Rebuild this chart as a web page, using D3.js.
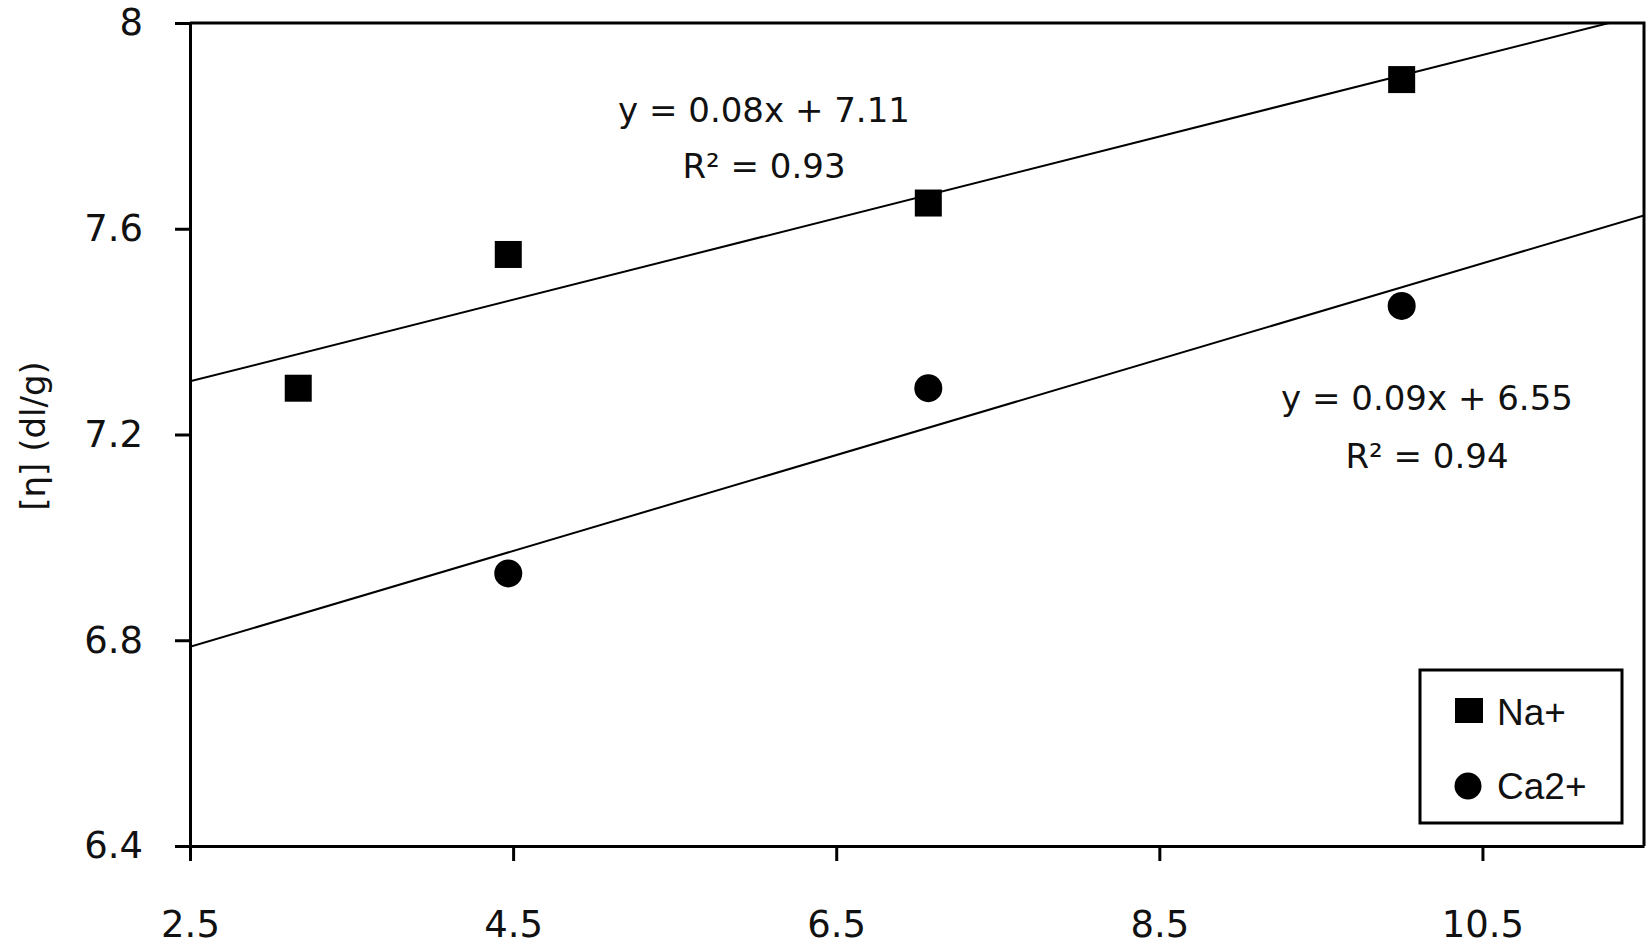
<!DOCTYPE html>
<html>
<head>
<meta charset="utf-8">
<script src="https://cdn.jsdelivr.net/npm/d3@7"></script>
<style>
  body { margin: 0; background: #fff; }
  svg { display: block; }
</style>
</head>
<body>
<svg id="chart" width="1652" height="945"></svg>
<script>
// ---- data ----
const xTicks = [2.5, 4.5, 6.5, 8.5, 10.5];
const yTicks = [6.4, 6.8, 7.2, 7.6, 8];
const naX = [3.17, 4.47, 7.07, 10.0];
const naY = [7.29, 7.55, 7.65, 7.89];
const caX = [4.47, 7.07, 10.0];
const caY = [6.93, 7.29, 7.45];
const seriesNames = ["Na+", "Ca2+"];
const eqNa = ["y = 0.08x + 7.11", "R² = 0.93"];
const eqCa = ["y = 0.09x + 6.55", "R² = 0.94"];
const yTitle = "[η] (dl/g)";

// ---- layout ----
const svg = d3.select("#chart");
const pL = 190, pR = 1644, pT = 23, pB = 846;
const x = d3.scaleLinear().domain([2.5, 11.5]).range([pL, pR]);
const y = d3.scaleLinear().domain([6.4, 8]).range([pB, pT]);

svg.append("rect").attr("width", 1652).attr("height", 945).attr("fill", "#fff");

svg.append("defs").append("clipPath").attr("id", "plotclip")
  .append("rect").attr("x", pL).attr("y", pT)
  .attr("width", pR - pL).attr("height", pB - pT);

// border (top and right)
svg.append("path")
  .attr("d", `M${pL},${pT}H${pR}V${pB}`)
  .attr("fill", "none").attr("stroke", "#000").attr("stroke-width", 3);

// axes
const ax = svg.append("g").attr("transform", `translate(0,${pB})`)
  .call(d3.axisBottom(x).tickValues(xTicks).tickSize(15).tickSizeOuter(0)
    .tickPadding(50).tickFormat(d3.format(".1f")));
const ay = svg.append("g").attr("transform", `translate(${pL},0)`)
  .call(d3.axisLeft(y).tickValues(yTicks).tickSize(15).tickSizeOuter(0)
    .tickPadding(32).tickFormat(d => String(d)));
[ax, ay].forEach(g => {
  g.selectAll("path, line").attr("stroke", "#000").attr("stroke-width", 3);
  g.selectAll("text").attr("fill", "#111")
    .style("font-family", "'DejaVu Sans', Verdana, sans-serif")
    .style("font-size", "37px");
});

// y-axis title
svg.append("text")
  .attr("transform", "translate(33,436) rotate(-90)")
  .attr("text-anchor", "middle").attr("dy", "0.35em")
  .style("font-family", "'DejaVu Sans', Verdana, sans-serif")
  .style("font-size", "34px").attr("fill", "#111")
  .text(yTitle);

// ---- trendlines (least squares) ----
function fit(xs, ys) {
  const mx = d3.mean(xs), my = d3.mean(ys);
  const sxy = d3.sum(xs, (v, i) => (v - mx) * (ys[i] - my));
  const sxx = d3.sum(xs, v => (v - mx) * (v - mx));
  const b = sxy / sxx;
  return { b, a: my - b * mx };
}
const plot = svg.append("g").attr("clip-path", "url(#plotclip)");
[[naX, naY], [caX, caY]].forEach(([xs, ys]) => {
  const f = fit(xs, ys);
  const dom = x.domain();
  plot.append("line")
    .attr("x1", x(dom[0])).attr("y1", y(f.a + f.b * dom[0]))
    .attr("x2", x(dom[1])).attr("y2", y(f.a + f.b * dom[1]))
    .attr("stroke", "#000").attr("stroke-width", 2);
});

// ---- markers ----
const sq = 27;
svg.append("g").selectAll("rect").data(naX.map((v, i) => [v, naY[i]])).join("rect")
  .attr("x", d => x(d[0]) - sq / 2).attr("y", d => y(d[1]) - sq / 2)
  .attr("width", sq).attr("height", sq).attr("fill", "#000");
svg.append("g").selectAll("circle").data(caX.map((v, i) => [v, caY[i]])).join("circle")
  .attr("cx", d => x(d[0])).attr("cy", d => y(d[1])).attr("r", 14).attr("fill", "#000");

// ---- equations ----
function eq(lines, cx, baselines) {
  lines.forEach((t, i) => {
    svg.append("text").attr("x", cx).attr("y", baselines[i])
      .attr("text-anchor", "middle")
      .style("font-family", "'DejaVu Sans', Verdana, sans-serif")
      .style("font-size", "34px").attr("fill", "#111").text(t);
  });
}
eq(eqNa, 764, [122, 178]);
eq(eqCa, 1427, [410, 468]);

// ---- legend ----
const lg = svg.append("g");
lg.append("rect").attr("x", 1420).attr("y", 670).attr("width", 202).attr("height", 153)
  .attr("fill", "#fff").attr("stroke", "#000").attr("stroke-width", 3);
lg.append("rect").attr("x", 1455).attr("y", 698).attr("width", 28).attr("height", 25).attr("fill", "#000");
lg.append("circle").attr("cx", 1468).attr("cy", 786).attr("r", 13.5).attr("fill", "#000");
[[seriesNames[0], 725], [seriesNames[1], 799]].forEach(([t, by]) => {
  lg.append("text").attr("x", 1497).attr("y", by)
    .style("font-family", "'Liberation Sans', Arial, sans-serif")
    .style("font-size", "37px").attr("fill", "#111").text(t);
});
</script>
</body>
</html>
